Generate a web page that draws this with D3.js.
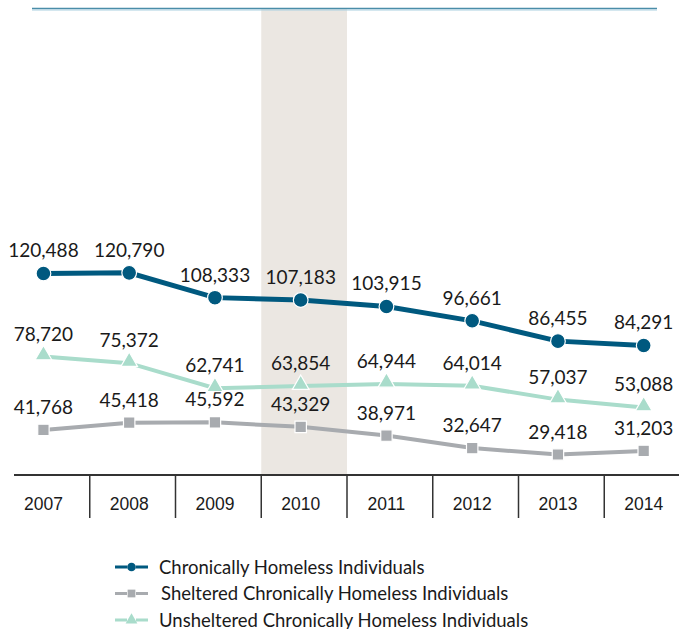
<!DOCTYPE html>
<html>
<head>
    <meta charset="utf-8">
    <title>Chronically Homeless Individuals 2007-2014</title>
    <script src="https://d3js.org/d3.v7.min.js"></script>
    <style>
        body { margin: 0; background: #fff; font-family: Lato, "Noto Sans", sans-serif; }
        .yr { font-family: "Liberation Sans", Arial, sans-serif; font-size: 17.5px; fill: #1a1a1a; }
        .val { font-size: 19px; fill: #1a1a1a; }
        .leg { font-size: 18.5px; fill: #1a1a1a; }
    </style>
</head>
<body>
    <div id="chart"></div>
    <script>
        // data
        var years = ["2007", "2008", "2009", "2010", "2011", "2012", "2013", "2014"];
        var chronic = [120488, 120790, 108333, 107183, 103915, 96661, 86455, 84291];
        var sheltered = [41768, 45418, 45592, 43329, 38971, 32647, 29418, 31203];
        var unsheltered = [78720, 75372, 62741, 63854, 64944, 64014, 57037, 53088];
        var highlightYear = "2010";

        var series = [
            { name: "Chronically Homeless Individuals", values: chronic, color: "#00597f", width: 5, shape: "circle" },
            { name: "Sheltered Chronically Homeless Individuals", values: sheltered, color: "#a8abaf", width: 4, shape: "square" },
            { name: "Unsheltered Chronically Homeless Individuals", values: unsheltered, color: "#a9dccb", width: 4, shape: "triangle" }
        ];

        var width = 679, height = 629;
        var axisY = 475;

        var x = d3.scaleBand().domain(years).range([4, 690]);
        var bw = x.bandwidth();
        var px = function(yr) { return x(yr) + bw * 0.46; };
        var y = d3.scaleLinear().domain([0, 250000]).range([513, 16]);

        var svg = d3.select("#chart").append("svg")
            .attr("width", width)
            .attr("height", height);

        // highlighted year band
        svg.append("rect")
            .attr("x", x(highlightYear))
            .attr("y", 9)
            .attr("width", bw)
            .attr("height", axisY - 9)
            .attr("fill", "#ebe7e2");

        // top rule
        svg.append("line")
            .attr("x1", 32).attr("x2", 657)
            .attr("y1", 8.5).attr("y2", 8.5)
            .attr("stroke", "#4a8da8")
            .attr("stroke-width", 1.5);
        svg.append("line")
            .attr("x1", 32).attr("x2", 657)
            .attr("y1", 10).attr("y2", 10)
            .attr("stroke", "#a9cfe0")
            .attr("stroke-width", 1);

        // bottom axis with cells
        svg.append("line")
            .attr("x1", 14).attr("x2", width)
            .attr("y1", axisY).attr("y2", axisY)
            .attr("stroke", "#333")
            .attr("stroke-width", 2);

        svg.selectAll(".div")
            .data(years.slice(1))
            .enter().append("line")
            .attr("x1", function(d) { return x(d); })
            .attr("x2", function(d) { return x(d); })
            .attr("y1", axisY).attr("y2", 518)
            .attr("stroke", "#333")
            .attr("stroke-width", 1.5);

        svg.selectAll(".yr")
            .data(years)
            .enter().append("text")
            .attr("class", "yr")
            .attr("x", function(d) { return px(d); })
            .attr("y", 510)
            .attr("text-anchor", "middle")
            .text(function(d) { return d; });

        var line = d3.line()
            .x(function(d, i) { return px(years[i]); })
            .y(function(d) { return y(d); });

        var sym = {
            circle: d3.symbol().type(d3.symbolCircle).size(170),
            square: d3.symbol().type(d3.symbolSquare).size(130),
            triangle: d3.symbol().type(d3.symbolTriangle).size(120)
        };

        // draw lines in back-to-front order
        [series[1], series[2], series[0]].forEach(function(s) {
            svg.append("path")
                .datum(s.values)
                .attr("d", line)
                .attr("fill", "none")
                .attr("stroke", s.color)
                .attr("stroke-width", s.width);

            svg.selectAll(null)
                .data(s.values)
                .enter().append("path")
                .attr("d", sym[s.shape])
                .attr("transform", function(d, i) {
                    var dy = s.shape === "triangle" ? -1.5 : 0;
                    return "translate(" + px(years[i]) + "," + (y(d) + dy) + ")";
                })
                .attr("fill", s.color)
                .attr("stroke", "#fff")
                .attr("stroke-width", 1.2);

            svg.selectAll(null)
                .data(s.values)
                .enter().append("text")
                .attr("class", "val")
                .attr("x", function(d, i) { return px(years[i]); })
                .attr("y", function(d) { return y(d) - 16; })
                .attr("text-anchor", "middle")
                .text(function(d) { return d3.format(",")(d); });
        });

        // legend
        var legend = svg.selectAll(".legrow")
            .data(series)
            .enter().append("g")
            .attr("transform", function(d, i) { return "translate(0," + (567 + i * 26.5) + ")"; });

        legend.append("line")
            .attr("x1", 115).attr("x2", 148)
            .attr("y1", 0).attr("y2", 0)
            .attr("stroke", function(d) { return d.color; })
            .attr("stroke-width", 3)
            .attr("stroke-dasharray", "12,9,12");

        legend.append("path")
            .attr("d", function(d) {
                return d3.symbol().type(d.shape === "circle" ? d3.symbolCircle : d.shape === "square" ? d3.symbolSquare : d3.symbolTriangle).size(60)();
            })
            .attr("transform", "translate(131.5,0)")
            .attr("fill", function(d) { return d.color; });

        legend.append("text")
            .attr("class", "leg")
            .attr("x", function(d, i) { return i === 1 ? 161 : 159; })
            .attr("y", 6.5)
            .text(function(d) { return d.name; });
    </script>
</body>
</html>
